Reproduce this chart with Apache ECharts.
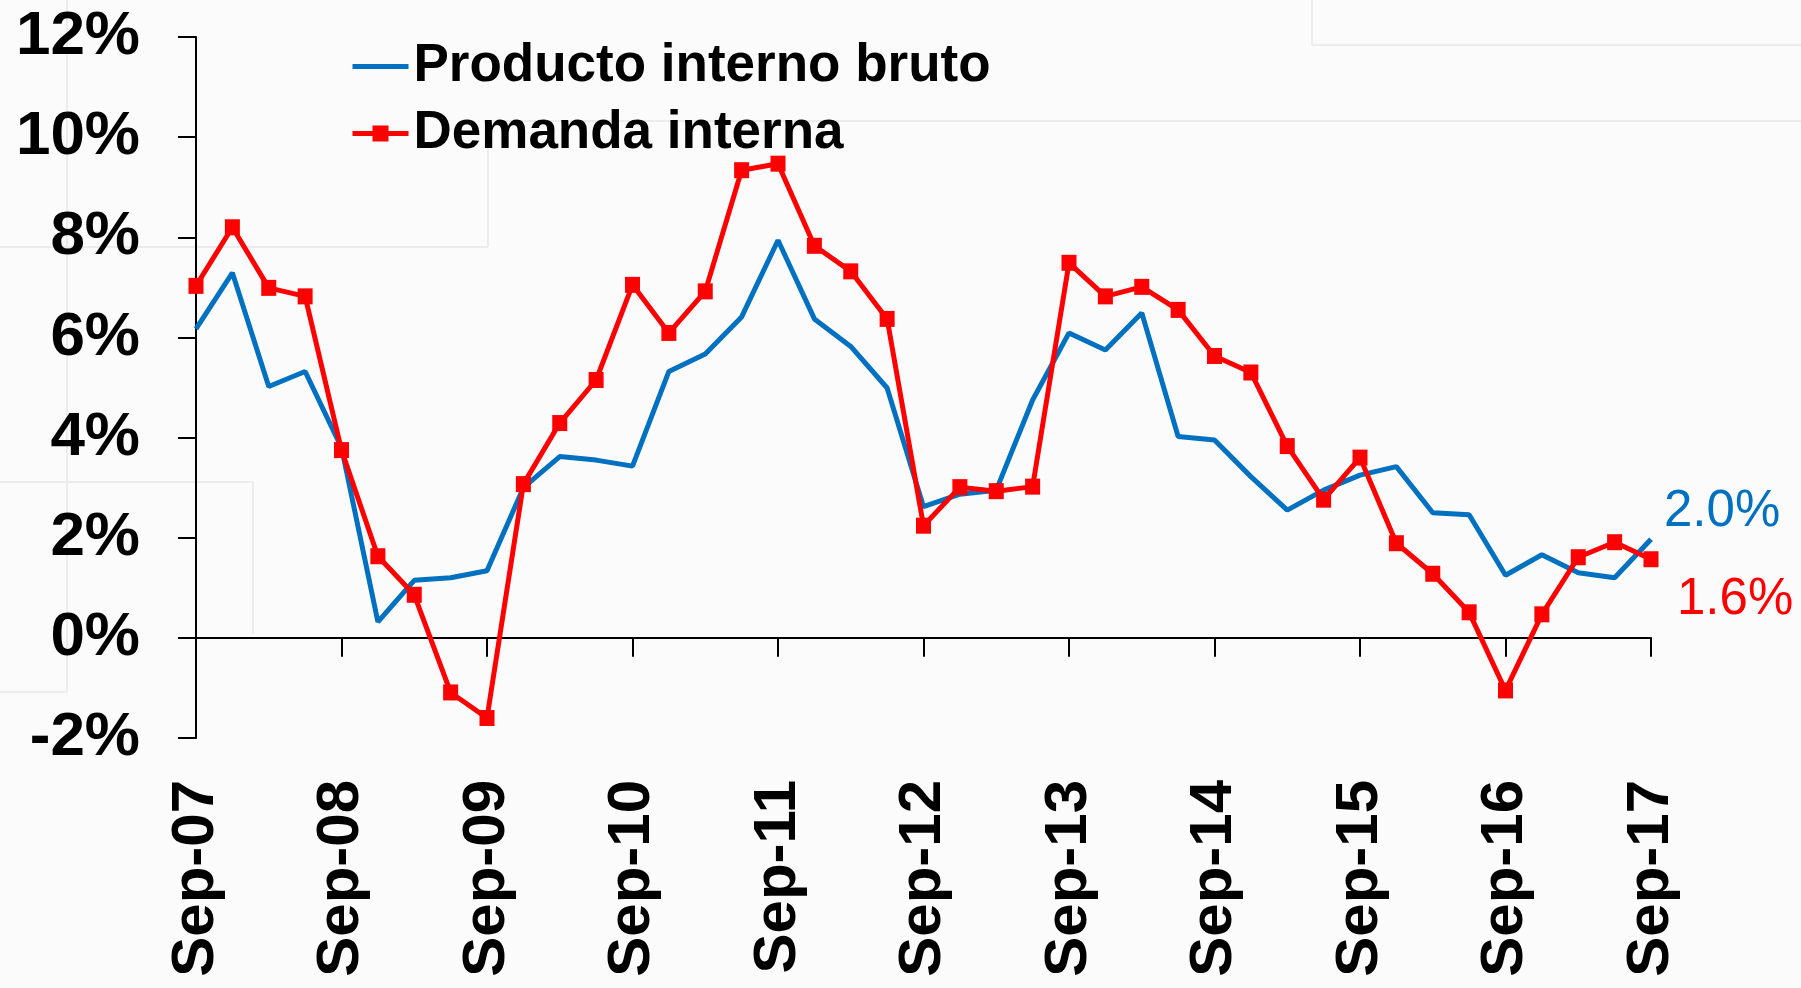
<!DOCTYPE html>
<html>
<head>
<meta charset="utf-8">
<title>PIB y demanda interna</title>
<script src="https://cdn.jsdelivr.net/npm/echarts@6/dist/echarts.min.js"></script>
<style>
  html, body { margin: 0; padding: 0; background: #fbfbfb; }
  #chart { width: 1801px; height: 988px; }
</style>
</head>
<body>
<div id="chart"></div>
<script>
// quarterly, Sep-07 .. Sep-17
const quarters = [
  "Sep-07", "Dec-07", "Mar-08", "Jun-08", "Sep-08", "Dec-08", "Mar-09", "Jun-09",
  "Sep-09", "Dec-09", "Mar-10", "Jun-10", "Sep-10", "Dec-10", "Mar-11", "Jun-11",
  "Sep-11", "Dec-11", "Mar-12", "Jun-12", "Sep-12", "Dec-12", "Mar-13", "Jun-13",
  "Sep-13", "Dec-13", "Mar-14", "Jun-14", "Sep-14", "Dec-14", "Mar-15", "Jun-15",
  "Sep-15", "Dec-15", "Mar-16", "Jun-16", "Sep-16", "Dec-16", "Mar-17", "Jun-17",
  "Sep-17",
];

const pib = [
  6.17, 7.29, 5.02, 5.32, 3.8, 0.32, 1.15, 1.2, 1.34, 3.0, 3.62, 3.55, 3.43,
  5.32, 5.67, 6.41, 7.94, 6.37, 5.82, 4.99, 2.62, 2.87, 2.95, 4.75, 6.09, 5.75,
  6.49, 4.02, 3.95, 3.22, 2.55, 2.95, 3.25, 3.42, 2.5, 2.46, 1.25, 1.66, 1.3,
  1.2, 1.97,
];

const demanda = [
  7.03, 8.2, 6.99, 6.82, 3.75, 1.63, 0.86, -1.09, -1.6, 3.07, 4.29, 5.15, 7.05,
  6.09, 6.92, 9.34, 9.47, 7.83, 7.32, 6.37, 2.24, 3.01, 2.93, 3.02, 7.49, 6.82,
  7.01, 6.55, 5.63, 5.3, 3.83, 2.76, 3.6, 1.89, 1.28, 0.51, -1.05, 0.47, 1.61,
  1.91, 1.57,
];

const yTicks = [-2, 0, 2, 4, 6, 8, 10, 12];

const FONT = "'Liberation Sans', Arial, sans-serif";
const BLUE = "#0070c0";
const RED = "#ff0000";

// faint panel outlines of the slide behind the chart
function panelLines() {
  let stroke = { stroke: "#ececec", lineWidth: 2 };
  let segs = [
    [0, 247, 488, 247], [488, 121, 488, 247], [488, 121, 1801, 121],
    [1312, 0, 1312, 45], [1312, 45, 1801, 45],
    [67, 0, 67, 692], [0, 692, 67, 692],
    [0, 482, 253, 482], [253, 482, 253, 634],
  ];
  return segs.map((s) => ({
    type: "line",
    silent: true,
    z: -10,
    shape: { x1: s[0], y1: s[1], x2: s[2], y2: s[3] },
    style: stroke,
  }));
}

window.onload = function () {
  var chart = echarts.init(document.getElementById("chart"));

  let option = {
    backgroundColor: "#fbfbfb",
    animation: false,
    graphic: panelLines(),
    grid: {
      left: 196,
      right: 150,
      top: 37,
      bottom: 250,
      outerBoundsMode: "none",
      containLabel: false,
    },
    legend: {
      orient: "vertical",
      left: 350,
      top: 40,
      padding: 0,
      itemGap: 14,
      itemWidth: 56,
      itemHeight: 20,
      lineStyle: { width: 5 },
      textStyle: {
        fontFamily: FONT,
        fontWeight: "bold",
        fontSize: 53,
        lineHeight: 53,
        color: "#000",
      },
      data: [
        { name: "Producto interno bruto", itemStyle: { opacity: 0 } },
        { name: "Demanda interna" },
      ],
    },
    xAxis: {
      type: "category",
      data: quarters,
      boundaryGap: false,
      axisLine: { onZero: true, lineStyle: { color: "#000", width: 2 } },
      axisTick: {
        interval: 3,
        length: 19,
        lineStyle: { color: "#000", width: 2 },
      },
      axisLabel: {
        interval: 3,
        rotate: 90,
        margin: 42,
        fontFamily: FONT,
        fontWeight: "bold",
        fontSize: 60,
        color: "#000",
      },
      splitLine: { show: false },
    },
    yAxis: {
      type: "value",
      min: yTicks[0],
      max: yTicks[yTicks.length - 1],
      interval: 2,
      axisLine: { show: true, lineStyle: { color: "#000", width: 2 } },
      axisTick: { show: true, length: 18, lineStyle: { color: "#000", width: 2 } },
      axisLabel: {
        margin: 56,
        fontFamily: FONT,
        fontWeight: "bold",
        fontSize: 62,
        color: "#000",
        formatter: "{value}%",
      },
      splitLine: { show: false },
    },
    series: [
      {
        name: "Producto interno bruto",
        type: "line",
        data: pib,
        symbol: "none",
        color: BLUE,
        lineStyle: { color: BLUE, width: 5 },
        z: 2,
        endLabel: {
          show: true,
          distance: 0,
          offset: [13, -27],
          fontFamily: FONT,
          fontSize: 51,
          color: BLUE,
          formatter: (p) => p.value.toFixed(1) + "%",
        },
      },
      {
        name: "Demanda interna",
        type: "line",
        data: demanda,
        symbol: "rect",
        symbolSize: [15, 16],
        color: RED,
        itemStyle: { color: RED },
        lineStyle: { color: RED, width: 5 },
        z: 3,
        endLabel: {
          show: true,
          distance: 0,
          offset: [26, 41],
          fontFamily: FONT,
          fontSize: 51,
          color: RED,
          formatter: (p) => p.value.toFixed(1) + "%",
        },
      },
    ],
  };

  chart.setOption(option);
};
</script>
</body>
</html>
